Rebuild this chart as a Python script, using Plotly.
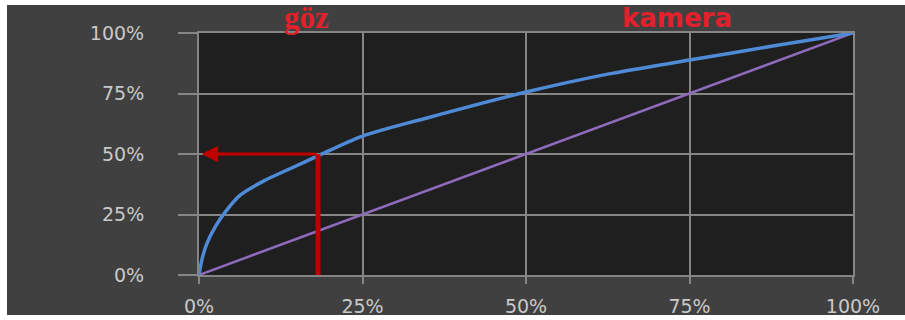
import plotly.graph_objects as go

# Data
diag_x = [0.0, 1.0]
diag_y = [0.0, 1.0]

eye_x = [0.0, 0.005, 0.012, 0.025, 0.04, 0.063, 0.10, 0.14, 0.18, 0.25, 0.35, 0.50, 0.625, 0.75, 0.875, 1.0]
eye_y = [0.0, 0.07, 0.13, 0.20, 0.26, 0.33, 0.39, 0.44, 0.49, 0.574, 0.65, 0.756, 0.83, 0.888, 0.945, 1.0]

mark_x = [0.182, 0.182]
mark_y = [0.0, 0.5]
arrow_head = (0.004, 0.5)
arrow_tail = (0.182, 0.5)

tick_vals = [0, 0.25, 0.5, 0.75, 1.0]
tick_text = ["0%", "25%", "50%", "75%", "100%"]

label_eye = "göz"
label_cam = "kamera"

RED = "#c00000"
GRID = "#858585"
TXT = "#c9c9c9"

fig = go.Figure()
fig.add_trace(go.Scatter(x=diag_x, y=diag_y, mode="lines",
                         line=dict(color="#8f6bbd", width=2.5), hoverinfo="skip"))
fig.add_trace(go.Scatter(x=eye_x, y=eye_y, mode="lines",
                         line=dict(color="#4f8ad6", width=3.5, shape="spline", smoothing=0.8),
                         hoverinfo="skip"))
fig.add_trace(go.Scatter(x=mark_x, y=mark_y, mode="lines",
                         line=dict(color=RED, width=5), hoverinfo="skip"))

fig.add_annotation(x=arrow_head[0], y=arrow_head[1], ax=arrow_tail[0], ay=arrow_tail[1],
                   xref="x", yref="y", axref="x", ayref="y", text="",
                   showarrow=True, arrowhead=2, arrowsize=1.1, arrowwidth=3, arrowcolor=RED)

fig.add_annotation(x=0.165, y=1.0, xref="x", yref="y", text=f"<b>{label_eye}</b>",
                   showarrow=False, yanchor="bottom", yshift=-4,
                   font=dict(family="Liberation Serif", size=31, color="#e3202b"))
fig.add_annotation(x=0.731, y=1.0, xref="x", yref="y", text=f"<b>{label_cam}</b>",
                   showarrow=False, yanchor="bottom", yshift=-2,
                   font=dict(family="DejaVu Sans", size=26, color="#e3202b"))

axis_common = dict(range=[0, 1], tickvals=tick_vals, ticktext=tick_text,
                   showgrid=True, gridcolor=GRID, gridwidth=2, zeroline=False,
                   showline=True, mirror=True, linecolor=GRID, linewidth=2,
                   ticks="outside", tickcolor=GRID, tickwidth=2, automargin=False,
                   tickfont=dict(family="DejaVu Sans", size=19, color=TXT),
                   fixedrange=True)

fig.update_xaxes(**axis_common, ticklen=7, ticklabelstandoff=6)
fig.update_yaxes(**axis_common, ticklen=19, ticklabelstandoff=30)

# white border strips of the original screenshot
for (x0, y0, x1, y1) in [(-0.31, -0.2, -0.2936, 1.2), (-0.31, 1.1157, 1.1, 1.2), (-0.31, -0.2, 1.1, -0.1653)]:
    fig.add_shape(type="rect", xref="paper", yref="paper", x0=x0, y0=y0, x1=x1, y1=y1,
                  fillcolor="white", line=dict(width=0), layer="below")

fig.update_layout(width=905, height=320, margin=dict(l=199, r=52, t=33, b=45),
                  paper_bgcolor="#404040", plot_bgcolor="#1f1f1f", showlegend=False)

fig.write_html("out.html")
